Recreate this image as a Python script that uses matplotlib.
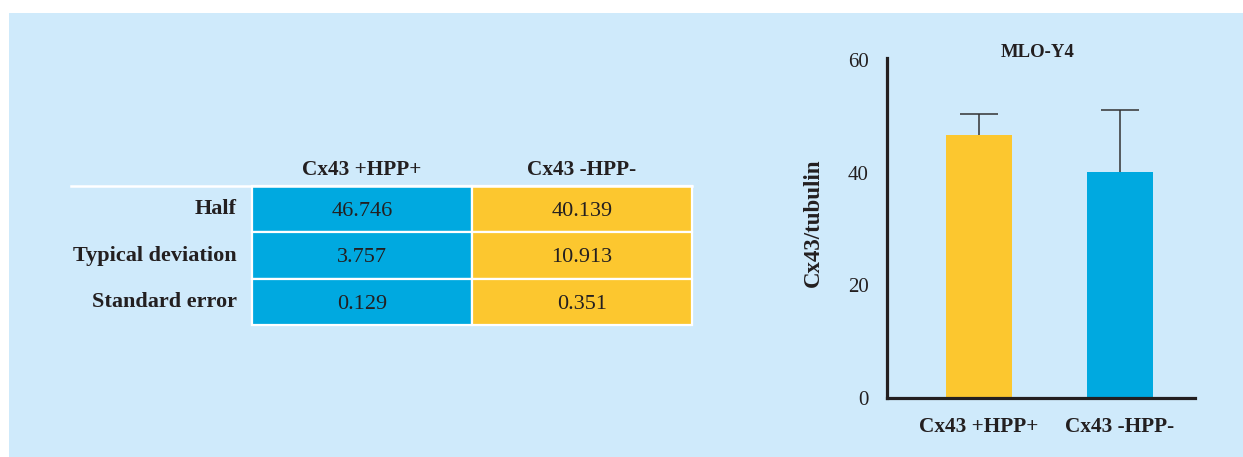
import matplotlib.pyplot as plt
from matplotlib.patches import Rectangle

plt.rcParams['font.family'] = ['Liberation Serif', 'DejaVu Serif']

# data
groups = ['Cx43 +HPP+', 'Cx43 -HPP-']
row_names = ['Half', 'Typical deviation', 'Standard error']
half = [46.746, 40.139]
typical_dev = [3.757, 10.913]
std_err = [0.129, 0.351]
yticks = [0, 20, 40, 60]

blue = '#00a9e0'
yellow = '#fcc72f'
panel = '#cfeafb'
ink = '#231f20'

W, H = 1243, 457
fig = plt.figure(figsize=(W / 100, H / 100), dpi=100)
fig.patch.set_facecolor('white')

# light blue panel behind everything
fig.patches.append(Rectangle((9 / W, 0), 1 - 9 / W, (H - 13) / H,
                             transform=fig.transFigure, facecolor=panel,
                             edgecolor='none', zorder=-10))

def box(x0, x1, ytop, ybot):
    return [x0 / W, (H - ybot) / H, (x1 - x0) / W, (ybot - ytop) / H]

# ---- table ----
tab = fig.add_axes(box(252, 692, 186, 325))
tab.set_xlim(0, 2)
tab.set_ylim(3, 0)
tab.axis('off')
table_rows = [half, typical_dev, std_err]
col_colors = [blue, yellow]
for r, vals in enumerate(table_rows):
    for c, v in enumerate(vals):
        tab.bar(c + 0.5, 1, bottom=r, width=1, color=col_colors[c],
                edgecolor='white', linewidth=1.6, clip_on=False)
        tab.text(c + 0.5, r + 0.5, f'{v:.3f}', ha='center',
                 va='center_baseline', fontsize=16, color=ink)
    tab.text(-0.068, r + 0.5, row_names[r], ha='right', va='center',
             fontsize=16, fontweight='bold', color=ink)
for c, g in enumerate(groups):
    tab.text(c + 0.5, -0.35, g, ha='center', va='center', fontsize=15.3,
             fontweight='bold', color=ink)
tab.axhline(0, xmin=-0.411, xmax=1.0, color='white', linewidth=1.8,
            clip_on=False)

# ---- bar chart ----
ax = fig.add_axes(box(887, 1195, 58, 398))
ax.set_facecolor('none')
x = range(len(groups))
ax.bar(x, half, width=0.47, color=[yellow, blue], zorder=2)
eb = ax.errorbar(x, half, yerr=[[0, 0], typical_dev], fmt='none',
                 ecolor='#333333', elinewidth=1.1, capsize=14, capthick=1.1,
                 zorder=1)
# only the upper caps are shown
for cap in eb[1]:
    if list(cap.get_ydata()) == half:
        cap.set_visible(False)
ax.set_xlim(-0.652, 1.532)
ax.set_ylim(0, 60.36)
ax.set_yticks(yticks)
ax.set_xticks(list(x))
ax.set_xticklabels(groups, fontsize=15.3, fontweight='bold', color=ink)
ax.tick_params(axis='y', length=0, pad=13, labelsize=15, labelcolor=ink)
ax.tick_params(axis='x', length=0, pad=14)
for s in ['top', 'right']:
    ax.spines[s].set_visible(False)
for s in ['left', 'bottom']:
    ax.spines[s].set_linewidth(2.3)
    ax.spines[s].set_color(ink)
ax.set_ylabel('Cx43/tubulin', fontsize=16.5, fontweight='bold', color=ink)
ax.yaxis.set_label_coords(-0.205, 0.515)
ax.text(0.49, 1.015, 'MLO-Y4', transform=ax.transAxes, ha='center',
        va='center', fontsize=13.5, fontweight='bold', color=ink)

fig.savefig('out.png', dpi=100)
